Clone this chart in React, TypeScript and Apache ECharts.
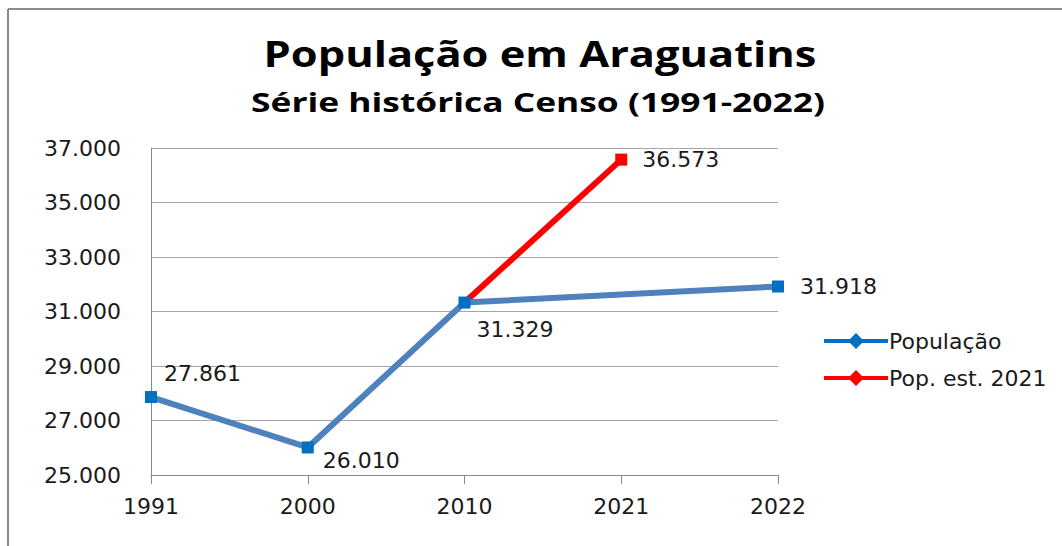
import React, { useEffect, useRef } from "react";
import * as echarts from "echarts";

const years = ["1991", "2000", "2010", "2021", "2022"];
const populacao = [27861, 26010, 31329, null, 31918];
const popEst2021 = [null, null, 31329, 36573, null];
const yTicks = { min: 25000, max: 37000, interval: 2000 };

const fmt = (v: number) => {
  const s = String(Math.round(v));
  return s.replace(/\B(?=(\d{3})+(?!\d))/g, ".");
};

// label placement per point (right side), [distance, dy]
const bluePlace: Array<[number, number] | null> = [[7, -24], [9, 13], [6, 27], null, [16, 0]];
const redPlace: Array<[number, number] | null> = [null, null, null, [15, 0], null];

const FONT = "DejaVu Sans";
const BLUE_LINE = "#4F81BD";
const BLUE_MARK = "#0070C0";
const RED = "#FF0000";

export default function App() {
  const ref = useRef<HTMLDivElement>(null);
  useEffect(() => {
    document.body.style.margin = "0";
    const chart = echarts.init(ref.current!, null, { renderer: "svg" });
    const labelStyle = { fontFamily: FONT, fontSize: 22, color: "#1a1a1a" };
    chart.setOption({
      animation: false,
      backgroundColor: "#ffffff",
      graphic: [
        { type: "line", shape: { x1: 8, y1: 9, x2: 1062, y2: 9 }, style: { stroke: "#8c8c8c", lineWidth: 2 } },
        { type: "line", shape: { x1: 8, y1: 9, x2: 8, y2: 546 }, style: { stroke: "#8c8c8c", lineWidth: 2 } },
        {
          type: "text",
          x: 540,
          y: 54,
          scaleX: 1.24,
          style: {
            text: "População em Araguatins",
            x: 0,
            y: 0,
            align: "center",
            verticalAlign: "middle",
            fontFamily: "Open Sans",
            fontWeight: "bold",
            fontSize: 35,
            fill: "#000",
          },
        },
        {
          type: "text",
          x: 538,
          y: 102,
          scaleX: 1.36,
          style: {
            text: "Série histórica Censo (1991-2022)",
            x: 0,
            y: 0,
            align: "center",
            verticalAlign: "middle",
            fontFamily: "Open Sans",
            fontWeight: "bold",
            fontSize: 26,
            fill: "#000",
          },
        },
      ],
      grid: { left: 151, right: 284, top: 148, bottom: 71, containLabel: false },
      legend: {
        orient: "vertical",
        left: 817,
        top: 325,
        itemWidth: 64,
        itemHeight: 20,
        itemGap: 15,
        textStyle: { fontFamily: FONT, fontSize: 22, color: "#1a1a1a", padding: [0, 0, 0, -4] },
        data: [
          { name: "População", lineStyle: { color: BLUE_MARK, width: 4 }, itemStyle: { color: BLUE_MARK } },
          { name: "Pop. est. 2021", lineStyle: { color: RED, width: 4 }, itemStyle: { color: RED } },
        ],
      },
      xAxis: {
        type: "category",
        data: years,
        boundaryGap: false,
        axisLine: { lineStyle: { color: "#888", width: 1 } },
        axisTick: { show: true, length: 9, alignWithLabel: true, lineStyle: { color: "#888" } },
        axisLabel: { ...labelStyle, margin: 20 },
        splitLine: { show: false },
      },
      yAxis: {
        type: "value",
        min: yTicks.min,
        max: yTicks.max,
        interval: yTicks.interval,
        axisLine: { show: true, lineStyle: { color: "#888", width: 1 } },
        axisTick: { show: false },
        axisLabel: { ...labelStyle, margin: 30, formatter: (v: number) => fmt(v) },
        splitLine: { lineStyle: { color: "#a6a6a6", width: 1 } },
      },
      series: [
        {
          name: "Pop. est. 2021",
          type: "line",
          z: 2,
          symbol: "diamond",
          symbolSize: 13,
          lineStyle: { color: RED, width: 6 },
          itemStyle: { color: RED },
          data: popEst2021.map((v, i) => {
            if (v === null) return null;
            const p = redPlace[i];
            return {
              value: v,
              symbol: p ? "rect" : "none",
              symbolSize: 12,
              label: p
                ? { show: true, position: "right", distance: p[0], offset: [0, p[1]], ...labelStyle, formatter: (d: any) => fmt(d.value) }
                : { show: false },
            };
          }),
        },
        {
          name: "População",
          type: "line",
          z: 3,
          connectNulls: true,
          symbol: "diamond",
          symbolSize: 13,
          lineStyle: { color: BLUE_LINE, width: 6 },
          itemStyle: { color: BLUE_MARK },
          data: populacao.map((v, i) => {
            if (v === null) return null;
            const p = bluePlace[i];
            return {
              value: v,
              symbol: "rect",
              symbolSize: 12,
              label: p
                ? { show: true, position: "right", distance: p[0], offset: [0, p[1]], ...labelStyle, formatter: (d: any) => fmt(d.value) }
                : { show: false },
            };
          }),
        },
      ],
    });
    return () => chart.dispose();
  }, []);
  return <div ref={ref} style={{ width: 1062, height: 546 }} />;
}
